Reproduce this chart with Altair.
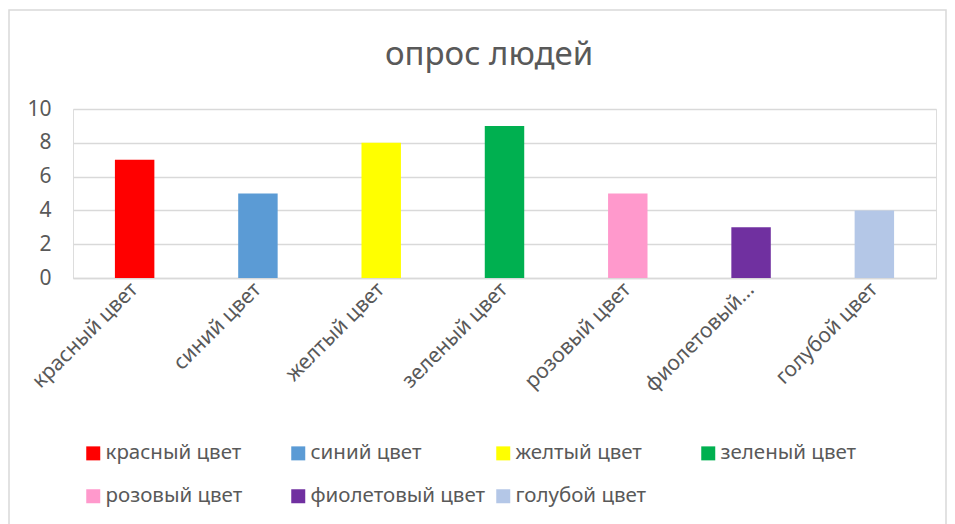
import altair as alt
import pandas as pd

categories = ["красный цвет", "синий цвет", "желтый цвет", "зеленый цвет",
              "розовый цвет", "фиолетовый цвет", "голубой цвет"]
values = [7, 5, 8, 9, 5, 3, 4]
colors = ["#FF0000", "#5B9BD5", "#FFFF00", "#00B050", "#FF99CC", "#7030A0", "#B4C7E7"]
axis_labels = ["красный цвет", "синий цвет", "желтый цвет", "зеленый цвет",
               "розовый цвет", "фиолетовый...", "голубой цвет"]
y_ticks = [0, 2, 4, 6, 8, 10]
title_text = "опрос людей"

FONT = "Noto Sans"
TXT = "#595959"
GRID = "#D9D9D9"

df = pd.DataFrame({"cat": categories, "val": values})

label_map = "{" + ",".join(f"'{c}':'{l}'" for c, l in zip(categories, axis_labels)) + "}"

bars = alt.Chart(df).mark_bar().encode(
    x=alt.X("cat:N", sort=None,
            scale=alt.Scale(paddingInner=0.68, paddingOuter=0.34),
            axis=alt.Axis(title=None, labelAngle=-45, labelAlign="right",
                          labelBaseline="middle", labelFontSize=21, labelFont=FONT,
                          labelColor=TXT, labelPadding=8, ticks=False,
                          domainColor=GRID, domainWidth=1.3, labelLimit=400,
                          labelExpr=f"{label_map}[datum.label]")),
    y=alt.Y("val:Q", scale=alt.Scale(domain=[0, 10]),
            axis=alt.Axis(title=None, values=y_ticks, domain=False, ticks=False,
                          labelFontSize=21, labelFont=FONT, labelColor=TXT,
                          labelPadding=22, gridColor=GRID, gridWidth=1.3)),
    color=alt.Color("cat:N", sort=None,
                    scale=alt.Scale(domain=categories, range=colors),
                    legend=alt.Legend(title=None, orient="none", legendX=10, legendY=334,
                                      direction="horizontal", columns=4, gridAlign="all",
                                      symbolType="square", symbolSize=196,
                                      symbolStrokeWidth=0, labelFontSize=20.5,
                                      labelFont=FONT, labelColor=TXT, labelOffset=2,
                                      columnPadding=7, rowPadding=22, padding=0,
                                      labelLimit=400)),
)

border = alt.Chart(pd.DataFrame({"a": [0]})).mark_rect(
    fill=None, stroke=GRID, strokeWidth=1.5
).encode(
    x=alt.value(-64), x2=alt.value(873), y=alt.value(-99), y2=alt.value(440)
)

title = alt.Chart(pd.DataFrame({"t": [title_text]})).mark_text(
    font=FONT, fontSize=33, color=TXT, align="center", baseline="middle"
).encode(
    text="t:N", x=alt.value(416), y=alt.value(-54)
)

chart = alt.layer(border, bars, title).properties(
    width=863, height=169,
    autosize=alt.AutoSizeParams(type="none"),
    padding={"left": 65, "top": 101, "right": 11, "bottom": 246},
).configure_view(stroke=None).configure(background="white")

chart.save("out.html", embed_options={"renderer": "svg", "actions": False})
